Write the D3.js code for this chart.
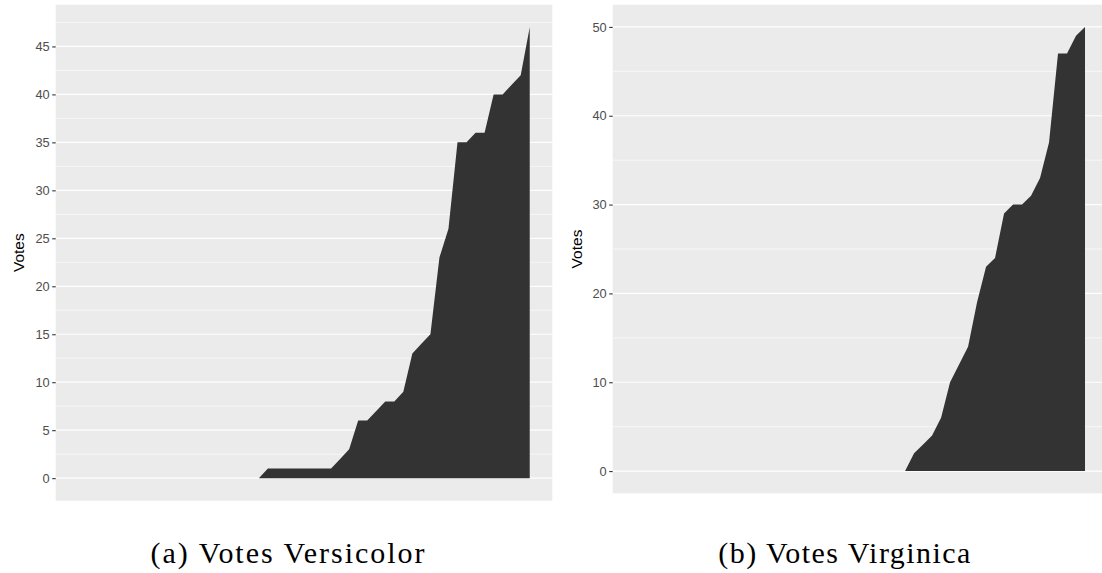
<!DOCTYPE html>
<html>
<head>
<meta charset="utf-8">
<script src="https://cdn.jsdelivr.net/npm/d3@7"></script>
<style>
  html, body { margin: 0; padding: 0; background: #ffffff; }
  svg { display: block; }
</style>
</head>
<body>
<svg id="chart" width="1102" height="573"></svg>
<script>
// Cumulative votes per sample, ordered (index 0..50)
const versicolorVotes = [
  0, 0, 0, 0, 0, 0, 0, 0, 0, 0,
  0, 0, 0, 0, 0, 0, 0, 0, 0, 0,
  0, 1, 1, 1, 1, 1, 1, 1, 1, 2,
  3, 6, 6, 7, 8, 8, 9, 13, 14, 15,
  23, 26, 35, 35, 36, 36, 40, 40, 41, 42,
  47
];
const virginicaVotes = [
  0, 0, 0, 0, 0, 0, 0, 0, 0, 0,
  0, 0, 0, 0, 0, 0, 0, 0, 0, 0,
  0, 0, 0, 0, 0, 0, 0, 0, 0, 0,
  0, 2, 3, 4, 6, 10, 12, 14, 19, 23,
  24, 29, 30, 30, 31, 33, 37, 47, 47, 49,
  50
];
const versicolorTicks = [0, 5, 10, 15, 20, 25, 30, 35, 40, 45];
const versicolorMinor = [2.5, 7.5, 12.5, 17.5, 22.5, 27.5, 32.5, 37.5, 42.5, 47.5];
const virginicaTicks = [0, 10, 20, 30, 40, 50];
const virginicaMinor = [5, 15, 25, 35, 45];
const captions = ["(a) Votes Versicolor", "(b) Votes Virginica"];
const yTitle = "Votes";

const svg = d3.select("#chart");

// ggplot-style panel with 5% expansion on both axes
function drawPanel(cfg) {
  const { left, top, width, height, values, ticks, minor, caption, capX, capLen, titleX } = cfg;
  const n = values.length - 1;
  const xPad = 0.05 * n;
  const yMax = d3.max(values);
  const yPad = 0.05 * yMax;

  const x = d3.scaleLinear().domain([-xPad, n + xPad]).range([left, left + width]);
  const y = d3.scaleLinear().domain([-yPad, yMax + yPad]).range([top + height, top]);

  const g = svg.append("g");

  g.append("rect")
    .attr("x", left).attr("y", top)
    .attr("width", width).attr("height", height)
    .attr("fill", "#EBEBEB");

  g.selectAll("line.minor").data(minor).join("line")
    .attr("class", "minor")
    .attr("x1", left).attr("x2", left + width)
    .attr("y1", d => y(d)).attr("y2", d => y(d))
    .attr("stroke", "#ffffff").attr("stroke-width", 0.6);

  g.selectAll("line.major").data(ticks).join("line")
    .attr("class", "major")
    .attr("x1", left).attr("x2", left + width)
    .attr("y1", d => y(d)).attr("y2", d => y(d))
    .attr("stroke", "#ffffff").attr("stroke-width", 1.2);

  // start the filled area one step before the first non-zero vote
  const firstIdx = Math.max(0, values.findIndex(v => v > 0) - 1);
  const pts = values.map((v, i) => ({ v, i })).filter(p => p.i >= firstIdx);
  g.append("path")
    .datum(pts)
    .attr("d", d3.area().x(p => x(p.i)).y0(y(0)).y1(p => y(p.v)).curve(d3.curveLinear))
    .attr("fill", "#333333");

  const axis = d3.axisLeft(y).tickValues(ticks).tickSize(3.5).tickPadding(2.5).tickFormat(d3.format("d"));
  const ax = g.append("g").attr("transform", `translate(${left},0)`).call(axis);
  ax.select(".domain").remove();
  ax.selectAll(".tick line").attr("stroke", "#333333").attr("stroke-width", 1.1);
  ax.selectAll(".tick text")
    .attr("fill", "#4D4D4D")
    .style("font-family", "'Liberation Sans', Arial, sans-serif")
    .style("font-size", "12.8px");

  g.append("text")
    .attr("transform", `translate(${titleX},${top + height / 2}) rotate(-90)`)
    .attr("text-anchor", "middle")
    .attr("dominant-baseline", "central")
    .style("font-family", "'Liberation Sans', Arial, sans-serif")
    .style("font-size", "15.5px")
    .attr("fill", "#000000")
    .text(yTitle);

  svg.append("text")
    .attr("x", capX).attr("y", 563)
    .attr("textLength", capLen)
    .attr("lengthAdjust", "spacing")
    .style("font-family", "'Liberation Serif', 'Times New Roman', serif")
    .style("font-size", "30px")
    .attr("fill", "#000000")
    .text(caption);
}

drawPanel({
  left: 55.7, top: 4.7, width: 496.6, height: 496,
  values: versicolorVotes, ticks: versicolorTicks, minor: versicolorMinor,
  caption: captions[0], capX: 150.5, capLen: 274, titleX: 18.5
});

drawPanel({
  left: 612.7, top: 4.7, width: 494.8, height: 488.6,
  values: virginicaVotes, ticks: virginicaTicks, minor: virginicaMinor,
  caption: captions[1], capX: 718.3, capLen: 252, titleX: 576
});
</script>
</body>
</html>
